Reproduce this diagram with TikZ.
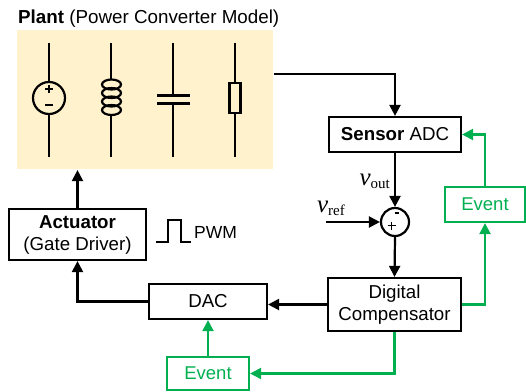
\documentclass[tikz,border=0pt]{standalone}
\usepackage{fontspec}
\setmainfont{Liberation Sans}
\newfontfamily\vfont{Liberation Serif}
\usetikzlibrary{arrows.meta}
\definecolor{evgreen}{HTML}{00B050}
\definecolor{plantfill}{HTML}{FFF2CC}
\begin{document}
\begin{tikzpicture}[x=1pt,y=-1pt,
  line width=2.2pt,
  blk/.style={draw=black, line width=2.2pt, rectangle, inner sep=0pt, align=center,
    font=\fontsize{18.7}{22}\selectfont},
  evbox/.style={draw=evgreen, line width=2.2pt, rectangle, inner sep=0pt, text=evgreen,
    font=\fontsize{18.5}{21}\selectfont},
  arr/.style={-{Triangle[length=11pt,width=11pt]}, line width=2.2pt},
  garr/.style={-{Triangle[length=11pt,width=11pt]}, line width=2.2pt, draw=evgreen},
  comp/.style={line width=2.2pt},
]
\useasboundingbox (0,0) rectangle (526,391);

% Plant
\node[fill=plantfill, rectangle, inner sep=0pt, minimum width=256pt, minimum height=139pt] (plant) at (145,99.5) {};
\node[anchor=base west, inner sep=0pt, font=\fontsize{18.8}{22}\selectfont] (plantlbl) at (17,23) {\textbf{Plant} (Power Converter Model)};

% voltage source
\draw[comp] (49,43) -- (49,82);
\draw[comp] (49,98) circle[radius=16];
\draw[comp] (49,114) -- (49,157);
\draw[line width=1.5pt] (45,89) -- (53,89) (49,85) -- (49,93);
\draw[line width=1.5pt] (45,105) -- (53,105);

% inductor
\draw[comp] (111,43) -- (111,79);
\foreach \k in {0,1,2,3}
  \draw[comp] (111.5,84.5+8.5*\k) ellipse[x radius=9.5, y radius=5];
\draw[comp] (111,116) -- (111,157);

% capacitor
\draw[comp] (173,43) -- (173,95);
\draw[line width=3pt] (157,95) -- (190,95);
\draw[line width=3pt] (157,103.5) -- (190,103.5);
\draw[comp] (173,103.5) -- (173,157);

% resistor
\draw[comp] (235,43) -- (235,83);
\draw[line width=2.8pt] (229.5,83) rectangle (240.5,113);
\draw[comp] (235,113) -- (235,157);

% blocks
\node[blk, minimum width=132pt, minimum height=35pt] (adc) at (395,134.5) {\textbf{Sensor} ADC};
\node[draw=black, line width=2.2pt, circle, inner sep=0pt, minimum size=28pt] (sum) at (395,222) {};
\node[blk, minimum width=133pt, minimum height=53pt] (dc) at (394.5,304.5) {Digital\\Compensator};
\node[blk, minimum width=118pt, minimum height=35pt] (dac) at (208,301.5) {DAC};
\node[blk, minimum width=137pt, minimum height=51pt] (act) at (77.5,234.5) {\textbf{Actuator}\\(Gate Driver)};
\node[evbox, minimum width=80pt, minimum height=35pt] (ev1) at (485,204.5) {Event};
\node[evbox, minimum width=82pt, minimum height=33pt] (ev2) at (208,373.5) {Event};

% sum signs
\draw[line width=1.4pt] (394.5,213) -- (399,213);
\draw[line width=1.4pt] (387.5,225.5) -- (395.5,225.5) (391.5,221.5) -- (391.5,229.5);

% labels
\node[anchor=base east, inner sep=0pt] (vout) at (391,185)
  {{\vfont\itshape\fontsize{25}{25}\selectfont v}{\vfont\fontsize{15}{15}\selectfont\raisebox{-3pt}{out}}};
\node[anchor=base west, inner sep=0pt] (vref) at (316,212)
  {{\vfont\itshape\fontsize{25}{25}\selectfont v}{\vfont\fontsize{15}{15}\selectfont\raisebox{-3pt}{ref}}};

% PWM
\draw[line width=1.8pt] (156,242) -- (168,242) -- (168,220) -- (181,220) -- (181,242) -- (191,242);
\node[anchor=west, inner sep=0pt, font=\fontsize{17.5}{20}\selectfont] (pwm) at (193,232) {PWM};

% black connectors
\path (plant.north east) ++(0,45) coordinate (pout);
\draw[arr] (pout) -| (adc.north);
\draw[arr] (adc.south) -- (sum.north);
\coordinate (vrefin) at (326,222);
\draw[arr] (vrefin) -- (sum.west);
\draw[arr] (sum.south) -- (dc.north);
\draw[arr] (dc.west) -- (dac.east |- dc.west);
\draw[arr] (dac.west) -| (act.south);
\draw[arr] (act.north) -- (act.north |- plant.south);

% green connectors
\draw[garr] (dc.east) -| (ev1.south);
\draw[garr] (ev1.north) |- (adc.east);
\draw[garr] (dc.south) |- (ev2.east);
\draw[garr] (ev2.north) -- (dac.south);
\end{tikzpicture}
\end{document}
